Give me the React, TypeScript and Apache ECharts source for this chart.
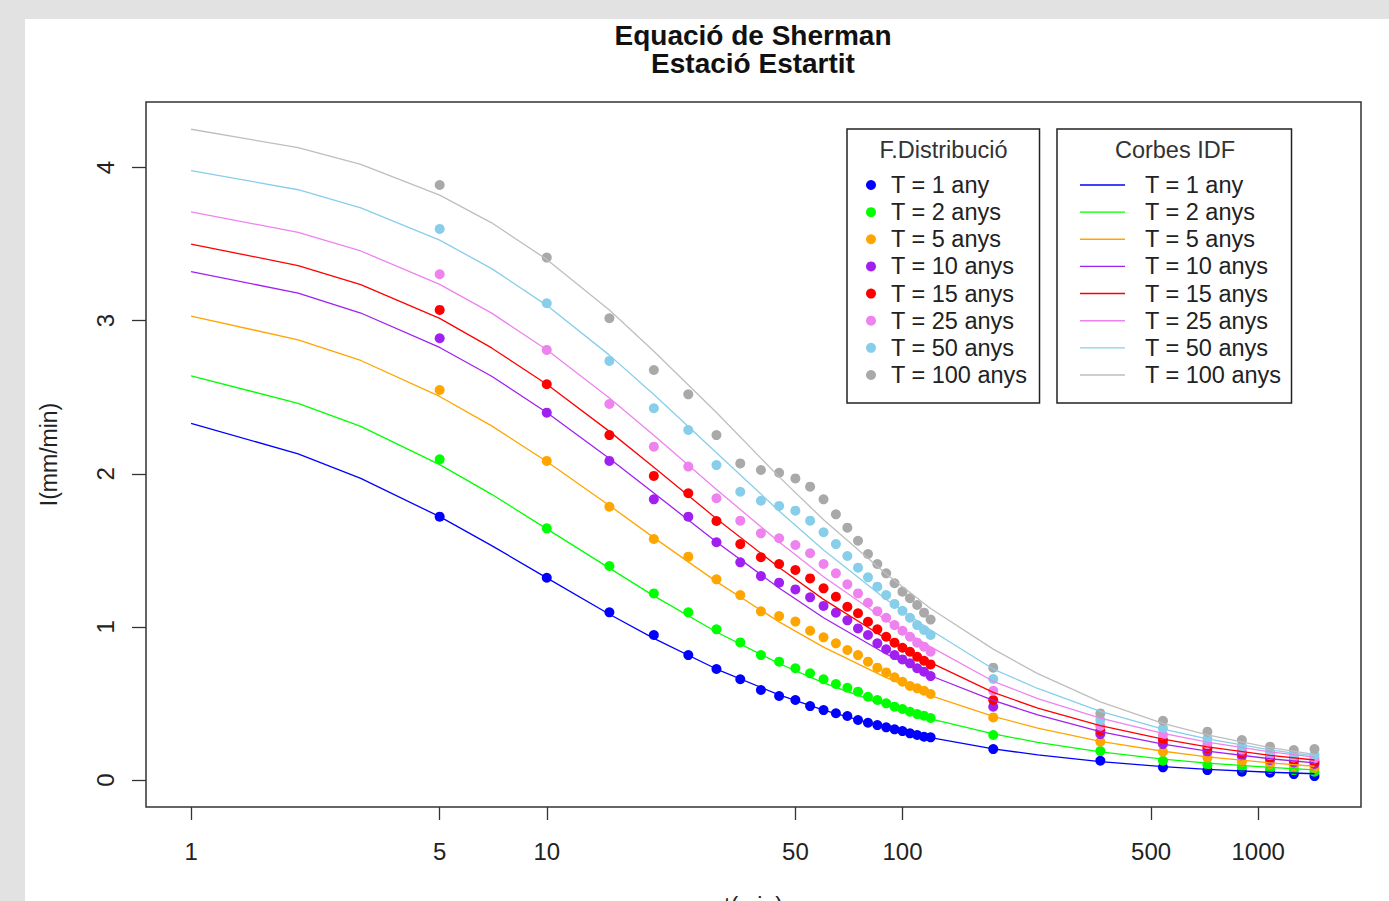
import React, { useEffect, useRef } from "react";
import * as echarts from "echarts";

// Return periods shown in both legends
const RETURN_PERIODS = [
  "T = 1 any",
  "T = 2 anys",
  "T = 5 anys",
  "T = 10 anys",
  "T = 15 anys",
  "T = 25 anys",
  "T = 50 anys",
  "T = 100 anys",
];

const POINT_COLORS = ["#0000FF", "#00FF00", "#FFA500", "#A020F0", "#FF0000", "#EE82EE", "#87CEEB", "#A9A9A9"];
const CURVE_COLORS = ["#0000FF", "#00FF00", "#FFA500", "#A020F0", "#FF0000", "#EE82EE", "#87CEEB", "#BEBEBE"];

// Durations (min) of the distribution-function estimates
const POINT_DURATIONS = [
  5, 10, 15, 20, 25, 30, 35, 40, 45, 50, 55, 60, 65, 70, 75, 80, 85, 90, 95, 100, 105, 110, 115, 120,
  180, 360, 540, 720, 900, 1080, 1260, 1440,
];

// Intensities (mm/min) from the distribution function, one list per return period
const T1_POINTS = [
  1.72, 1.321, 1.095, 0.947, 0.816, 0.725, 0.658, 0.588, 0.549, 0.523, 0.483, 0.457, 0.436, 0.418, 0.392, 0.374,
  0.359, 0.344, 0.331, 0.32, 0.305, 0.294, 0.283, 0.279, 0.202, 0.126, 0.083, 0.065, 0.054, 0.048, 0.039, 0.026,
];
const T2_POINTS = [
  2.095, 1.644, 1.398, 1.219, 1.095, 0.984, 0.899, 0.816, 0.773, 0.73, 0.697, 0.658, 0.627, 0.603, 0.577, 0.544,
  0.523, 0.501, 0.479, 0.464, 0.446, 0.431, 0.42, 0.405, 0.294, 0.189, 0.126, 0.098, 0.083, 0.072, 0.065, 0.054,
];
const T5_POINTS = [
  2.547, 2.084, 1.785, 1.574, 1.459, 1.311, 1.208, 1.102, 1.071, 1.035, 0.975, 0.932, 0.893, 0.849, 0.816, 0.773,
  0.734, 0.703, 0.671, 0.642, 0.614, 0.599, 0.583, 0.562, 0.409, 0.25, 0.185, 0.146, 0.12, 0.105, 0.091, 0.08,
];
const T10_POINTS = [
  2.885, 2.399, 2.084, 1.833, 1.72, 1.553, 1.422, 1.332, 1.289, 1.245, 1.193, 1.137, 1.093, 1.043, 0.99, 0.947,
  0.893, 0.854, 0.816, 0.788, 0.762, 0.73, 0.708, 0.679, 0.479, 0.3, 0.235, 0.185, 0.157, 0.131, 0.115, 0.105,
];
const T15_POINTS = [
  3.07, 2.585, 2.253, 1.986, 1.873, 1.692, 1.541, 1.455, 1.411, 1.372, 1.317, 1.252, 1.197, 1.132, 1.089, 1.034,
  0.984, 0.936, 0.897, 0.864, 0.838, 0.805, 0.779, 0.755, 0.523, 0.322, 0.261, 0.207, 0.174, 0.148, 0.131, 0.12,
];
const T25_POINTS = [
  3.303, 2.809, 2.456, 2.177, 2.047, 1.84, 1.694, 1.611, 1.579, 1.535, 1.481, 1.411, 1.35, 1.278, 1.219, 1.158,
  1.103, 1.06, 1.012, 0.975, 0.936, 0.897, 0.871, 0.838, 0.583, 0.353, 0.294, 0.235, 0.196, 0.163, 0.148, 0.141,
];
const T50_POINTS = [
  3.599, 3.114, 2.737, 2.428, 2.286, 2.057, 1.883, 1.824, 1.79, 1.759, 1.694, 1.618, 1.541, 1.463, 1.387, 1.324,
  1.263, 1.208, 1.15, 1.105, 1.06, 1.012, 0.98, 0.947, 0.66, 0.392, 0.338, 0.272, 0.222, 0.185, 0.163, 0.163,
];
const T100_POINTS = [
  3.886, 3.412, 3.016, 2.678, 2.519, 2.253, 2.068, 2.025, 2.007, 1.97, 1.916, 1.833, 1.735, 1.648, 1.563, 1.476,
  1.411, 1.35, 1.285, 1.23, 1.187, 1.143, 1.093, 1.048, 0.734, 0.435, 0.387, 0.316, 0.261, 0.218, 0.196, 0.202,
];

// Durations (min) at which the fitted Sherman IDF curves are drawn
const CURVE_DURATIONS = [1, 2, 3, 5, 7, 10, 15, 20, 30, 45, 60, 90, 120, 180, 240, 360, 540, 720, 1080, 1440];

// Fitted IDF curve intensities (mm/min)
const T1_CURVE = [2.33, 2.13, 1.97, 1.72, 1.531, 1.32, 1.083, 0.925, 0.725, 0.556, 0.456, 0.342, 0.277, 0.204, 0.164, 0.12, 0.088, 0.07, 0.051, 0.041];
const T2_CURVE = [2.64, 2.46, 2.31, 2.06, 1.866, 1.64, 1.384, 1.203, 0.967, 0.761, 0.635, 0.487, 0.4, 0.302, 0.246, 0.184, 0.137, 0.111, 0.083, 0.067];
const T5_CURVE = [3.03, 2.875, 2.74, 2.505, 2.313, 2.08, 1.793, 1.583, 1.296, 1.033, 0.868, 0.669, 0.551, 0.416, 0.339, 0.252, 0.188, 0.152, 0.112, 0.09];
const T10_CURVE = [3.32, 3.18, 3.05, 2.825, 2.637, 2.4, 2.1, 1.874, 1.555, 1.254, 1.06, 0.823, 0.681, 0.52, 0.425, 0.316, 0.234, 0.189, 0.139, 0.112];
const T15_CURVE = [3.5, 3.36, 3.235, 3.015, 2.822, 2.585, 2.277, 2.042, 1.707, 1.388, 1.18, 0.923, 0.767, 0.572, 0.47, 0.356, 0.267, 0.217, 0.161, 0.131];
const T25_CURVE = [3.71, 3.577, 3.455, 3.237, 3.049, 2.81, 2.495, 2.251, 1.898, 1.554, 1.328, 1.044, 0.87, 0.645, 0.532, 0.405, 0.305, 0.248, 0.184, 0.15];
const T50_CURVE = [3.98, 3.855, 3.737, 3.526, 3.34, 3.1, 2.775, 2.518, 2.137, 1.757, 1.503, 1.179, 0.98, 0.725, 0.598, 0.448, 0.333, 0.269, 0.197, 0.158];
const T100_CURVE = [4.25, 4.13, 4.02, 3.82, 3.639, 3.4, 3.07, 2.8, 2.4, 1.98, 1.7, 1.345, 1.12, 0.855, 0.695, 0.51, 0.37, 0.295, 0.212, 0.168];

const X_TICKS = [1, 5, 10, 50, 100, 500, 1000];
const Y_TICKS = [0, 1, 2, 3, 4];

const POINT_SETS = [T1_POINTS, T2_POINTS, T5_POINTS, T10_POINTS, T15_POINTS, T25_POINTS, T50_POINTS, T100_POINTS];
const CURVE_SETS = [T1_CURVE, T2_CURVE, T5_CURVE, T10_CURVE, T15_CURVE, T25_CURVE, T50_CURVE, T100_CURVE];

const FONT = "'Liberation Sans', Arial, sans-serif";
const INK = "#222";
const PTS = "F.Distribució ";
const IDF = "Corbes IDF ";

const titleLine = (text: string, top: number) => ({
  text,
  left: 753,
  top,
  textAlign: "center",
  padding: 0,
  textStyle: { fontSize: 28, fontWeight: "bold", lineHeight: 28, color: "#111", fontFamily: FONT },
});

function buildOption(): echarts.EChartsOption {
  const scatterSeries = RETURN_PERIODS.map((label, i) => ({
    type: "scatter" as const,
    name: PTS + label,
    data: POINT_DURATIONS.map((t, j) => [t, POINT_SETS[i][j]]),
    symbol: "circle",
    symbolSize: 10,
    itemStyle: { color: POINT_COLORS[i], opacity: 1 },
    z: 2,
  }));
  const curveSeries = RETURN_PERIODS.map((label, i) => ({
    type: "line" as const,
    name: IDF + label,
    data: CURVE_DURATIONS.map((t, j) => [t, CURVE_SETS[i][j]]),
    symbol: "none",
    showSymbol: false,
    smooth: false,
    lineStyle: { color: CURVE_COLORS[i], width: 1.3 },
    itemStyle: { color: CURVE_COLORS[i] },
    z: 3,
  }));
  const stripPrefix = (name: string) => name.replace(PTS, "").replace(IDF, "");

  return {
    animation: false,
    backgroundColor: "transparent",
    textStyle: { fontFamily: FONT },
    title: [titleLine("Equació de Sherman", 21), titleLine("Estació Estartit", 49)],
    grid: {
      left: 146,
      top: 102,
      width: 1215,
      height: 705,
      show: true,
      containLabel: false,
      outerBoundsMode: "none",
      borderColor: "#333",
      borderWidth: 1.5,
      backgroundColor: "transparent",
    },
    xAxis: {
      type: "log",
      logBase: 10,
      min: 0.747,
      max: 1946,
      position: "bottom",
      axisLine: { show: false, onZero: false },
      splitLine: { show: false },
      minorTick: { show: false },
      axisTick: { show: true, length: 13, customValues: X_TICKS, lineStyle: { color: "#333", width: 1.3 } },
      axisLabel: {
        customValues: X_TICKS,
        margin: 32,
        fontSize: 24,
        color: INK,
        fontFamily: FONT,
        formatter: (v: number) => String(Math.round(v)),
      },
      name: "t(min)",
      nameLocation: "middle",
      nameGap: 87,
      nameTextStyle: { fontSize: 23, color: INK, fontFamily: FONT },
    },
    yAxis: {
      type: "value",
      min: -0.176,
      max: 4.428,
      position: "left",
      axisLine: { show: false, onZero: false },
      splitLine: { show: false },
      axisTick: { show: true, length: 14, customValues: Y_TICKS, lineStyle: { color: "#333", width: 1.3 } },
      axisLabel: { customValues: Y_TICKS, rotate: 90, margin: 29, fontSize: 24, color: INK, fontFamily: FONT },
      name: "I(mm/min)",
      nameLocation: "middle",
      nameRotate: 90,
      nameGap: 86,
      nameTextStyle: { fontSize: 23, color: INK, fontFamily: FONT },
    },
    legend: [
      {
        data: RETURN_PERIODS.map((l) => PTS + l),
        orient: "vertical",
        left: 847,
        top: 129,
        icon: "circle",
        itemWidth: 10,
        itemHeight: 10,
        itemGap: 0.14,
        padding: [42.5, 12, 14.5, 19],
        borderColor: "#222",
        borderWidth: 1.5,
        selectedMode: false,
        formatter: stripPrefix,
        textStyle: { fontSize: 23.5, lineHeight: 27, color: INK, fontFamily: FONT, padding: [0, 0, 0, 10] },
      },
      {
        data: RETURN_PERIODS.map((l) => IDF + l),
        orient: "vertical",
        left: 1057,
        top: 129,
        icon: "rect",
        itemWidth: 45,
        itemHeight: 1.4,
        itemGap: 0.14,
        padding: [42.5, 10, 14.5, 23],
        borderColor: "#222",
        borderWidth: 1.5,
        selectedMode: false,
        formatter: stripPrefix,
        textStyle: { fontSize: 23.5, lineHeight: 27, color: INK, fontFamily: FONT, padding: [0, 0, 0, 15] },
      },
    ],
    graphic: [
      {
        type: "text",
        x: 943.5,
        y: 150,
        style: { text: "F.Distribució", textAlign: "center", textVerticalAlign: "middle", fontSize: 23.5, fill: "#333", fontFamily: FONT },
      },
      {
        type: "text",
        x: 1175,
        y: 150,
        style: { text: "Corbes IDF", textAlign: "center", textVerticalAlign: "middle", fontSize: 23.5, fill: "#333", fontFamily: FONT },
      },
    ],
    series: [...scatterSeries, ...curveSeries],
  } as echarts.EChartsOption;
}

export default function App() {
  const ref = useRef<HTMLDivElement>(null);

  useEffect(() => {
    if (!ref.current) return;
    const chart = echarts.init(ref.current, null, { renderer: "svg" });
    chart.setOption(buildOption());
    return () => chart.dispose();
  }, []);

  return (
    <div
      style={{
        position: "absolute",
        left: 0,
        top: 0,
        width: 1389,
        height: 901,
        background: "#e2e2e2",
        overflow: "hidden",
      }}
    >
      <div style={{ position: "absolute", left: 25, top: 19, right: 0, bottom: 0, background: "#ffffff" }} />
      <div ref={ref} style={{ position: "absolute", left: 0, top: 0, width: 1389, height: 901 }} />
    </div>
  );
}
